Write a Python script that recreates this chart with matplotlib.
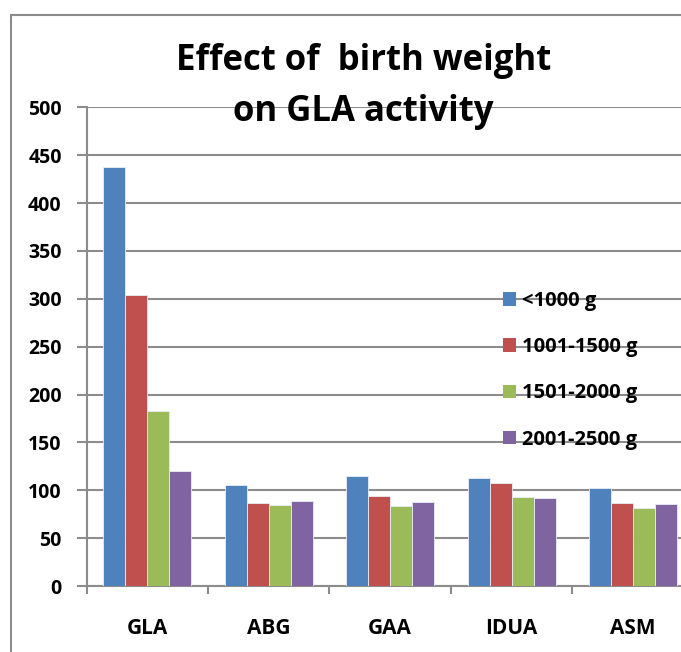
import matplotlib.pyplot as plt
import numpy as np
from matplotlib.patches import Patch

plt.rcParams['font.family'] = ['Open Sans', 'DejaVu Sans']

enzymes = ['GLA', 'ABG', 'GAA', 'IDUA', 'ASM']
groups = ['<1000 g', '1001-1500 g', '1501-2000 g', '2001-2500 g']
under_1000 = [438, 106, 115, 113, 102]
g1001_1500 = [304, 87, 94, 108, 87]
g1501_2000 = [183, 85, 84, 93, 82]
g2001_2500 = [120, 89, 88, 92, 86]
yticks = [0, 50, 100, 150, 200, 250, 300, 350, 400, 450, 500]

colors = ['#4F81BD', '#C0504D', '#9BBB59', '#8064A2']
series = [under_1000, g1001_1500, g1501_2000, g2001_2500]

fig = plt.figure(figsize=(6.81, 6.52), dpi=100)
ax = fig.add_axes([0.1273, 0.1012, 0.8913, 0.7342])

x = np.arange(len(enzymes))
w = 0.181
for i, vals in enumerate(series):
    ax.bar(x + (i - 1.5) * w, vals, width=w, color=colors[i],
           edgecolor='#e8eef6', linewidth=0.6, zorder=3)

ax.set_xlim(-0.5, 4.5)
ax.set_ylim(0, 500)
ax.set_yticks(yticks)
ax.set_yticklabels([str(t) for t in yticks], fontsize=14, fontweight='bold')
ax.yaxis.grid(True, color='#8c8c8c', linewidth=1.5, zorder=0)

# category ticks sit on group boundaries, labels at centres
ax.set_xticks(np.arange(-0.5, 4.6, 1.0))
ax.set_xticklabels([])
ax.set_xticks(x, minor=True)
ax.set_xticklabels(enzymes, minor=True, fontsize=15, fontweight='bold')
ax.tick_params(axis='x', which='minor', length=0, pad=23)
ax.tick_params(axis='x', which='major', length=6, width=1.5, color='#8c8c8c')
ax.tick_params(axis='y', length=7, width=1.5, color='#8c8c8c', pad=11)

for s in ['top', 'right']:
    ax.spines[s].set_visible(False)
for s in ['left', 'bottom']:
    ax.spines[s].set_color('#8c8c8c')
    ax.spines[s].set_linewidth(1.5)

fig.text(0.534, 0.907, 'Effect of  birth weight', ha='center', va='center',
         fontsize=25, fontweight='bold')
fig.text(0.534, 0.828, 'on GLA activity', ha='center', va='center',
         fontsize=25, fontweight='bold')

handles = [Patch(facecolor=c, edgecolor='none') for c in colors]
fig.legend(handles, groups, loc='upper left', bbox_to_anchor=(0.724, 0.569),
           frameon=False, prop={'weight': 'bold', 'size': 14.5},
           handlelength=0.65, handleheight=0.65, handletextpad=0.3,
           labelspacing=1.3, borderpad=0)

# outer chart border (left and top only visible)
fig.add_artist(plt.Line2D([0.0162, 0.0162], [0, 0.977], color='#8c8c8c', linewidth=1.5))
fig.add_artist(plt.Line2D([0.0162, 1.0], [0.977, 0.977], color='#8c8c8c', linewidth=1.5))

fig.savefig('out.png', dpi=100)
